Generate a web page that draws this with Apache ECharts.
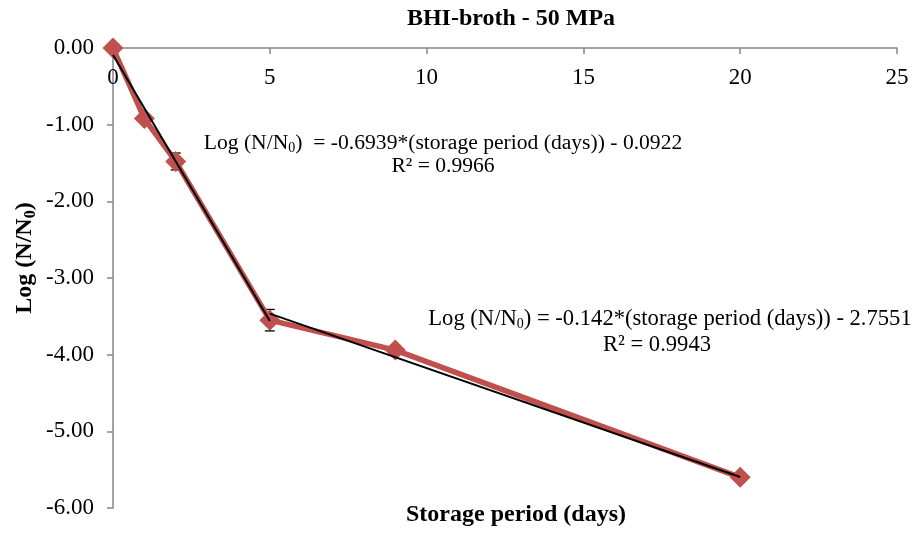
<!DOCTYPE html>
<html>
<head>
<meta charset="utf-8">
<script src="https://cdn.jsdelivr.net/npm/echarts@6/dist/echarts.min.js"></script>
<style>
  html, body { margin: 0; padding: 0; background: #fff; }
  #chart { width: 919px; height: 533px; }
</style>
</head>
<body>
<div id="chart"></div>
<script>
// Storage days and measured log reduction
const days = [0, 1, 2, 5, 9, 20];
const logReduction = [0.00, -0.92, -1.48, -3.55, -3.94, -5.60];
const errorSpan = [0.00, 0.04, 0.11, 0.14, 0.06, 0.03];

// Fitted trend segments: slope, intercept, x range
const fit1 = { slope: -0.6939, intercept: -0.0922, from: 0, to: 5, r2: '0.9966' };
const fit2 = { slope: -0.142, intercept: -2.7551, from: 5, to: 20, r2: '0.9943' };

const xTicks = [0, 5, 10, 15, 20, 25];
const yTicks = [0, -1, -2, -3, -4, -5, -6];

const FONT = '"Liberation Serif", "Times New Roman", serif';
const AXIS_COLOR = '#868686';
const RED = '#C0504D';

function fitLine(f) {
  return [[f.from, f.slope * f.from + f.intercept], [f.to, f.slope * f.to + f.intercept]];
}

function eqRich(size) {
  return {
    t: { fontFamily: FONT, fontSize: size, color: '#000' },
    s: { fontFamily: FONT, fontSize: 14, color: '#000', padding: [11, 0, 0, 0] }
  };
}

function equationText(f, gap) {
  return '{t|Log (N/N}{s|0}{t|)' + gap + '= ' + f.slope + '*(storage period (days)) - ' +
    Math.abs(f.intercept) + '}';
}

const chart = echarts.init(document.getElementById('chart'), null, { renderer: 'canvas' });

chart.setOption({
  backgroundColor: '#fff',
  animation: false,
  grid: { left: 113, top: 48, width: 784, height: 460 },
  xAxis: {
    type: 'value',
    position: 'top',
    min: xTicks[0],
    max: xTicks[xTicks.length - 1],
    interval: 5,
    axisLine: { show: true, onZero: false, lineStyle: { color: AXIS_COLOR, width: 1.5 } },
    axisTick: { show: true, inside: true, length: 6, lineStyle: { color: AXIS_COLOR, width: 1.5 } },
    axisLabel: { inside: true, margin: 18, fontFamily: FONT, fontSize: 23, color: '#000' },
    splitLine: { show: false }
  },
  yAxis: {
    type: 'value',
    min: yTicks[yTicks.length - 1],
    max: yTicks[0],
    interval: 1,
    axisLine: { show: true, onZero: false, lineStyle: { color: AXIS_COLOR, width: 1.5 } },
    axisTick: { show: true, length: 6, lineStyle: { color: AXIS_COLOR, width: 1.5 } },
    axisLabel: { margin: 19, fontFamily: FONT, fontSize: 23, color: '#000',
      formatter: v => v.toFixed(2) },
    splitLine: { show: false }
  },
  graphic: [
    { type: 'text', x: 511, y: 19, style: { text: 'BHI-broth - 50 MPa', fontFamily: FONT,
      fontSize: 24, fontWeight: 'bold', fill: '#000', align: 'center', verticalAlign: 'middle' } },
    { type: 'text', x: 516, y: 515, style: { text: 'Storage period (days)', fontFamily: FONT,
      fontSize: 24, fontWeight: 'bold', fill: '#000', align: 'center', verticalAlign: 'middle' } },
    { type: 'text', x: 25, y: 258, rotation: Math.PI / 2, style: {
      text: '{b|Log (N/N}{bs|0}{b|)}', align: 'center', verticalAlign: 'middle',
      rich: {
        b: { fontFamily: FONT, fontSize: 24, fontWeight: 'bold', fill: '#000' },
        bs: { fontFamily: FONT, fontSize: 16, fontWeight: 'bold', fill: '#000', padding: [12, 0, 0, 0] }
      } } },
    { type: 'text', x: 443, y: 143, style: { text: equationText(fit1, '  '),
      align: 'center', verticalAlign: 'middle', rich: eqRich(21.6) } },
    { type: 'text', x: 443, y: 166, style: { text: 'R² = ' + fit1.r2, fontFamily: FONT,
      fontSize: 21.6, fill: '#000', align: 'center', verticalAlign: 'middle' } },
    { type: 'text', x: 670, y: 319, style: { text: equationText(fit2, ' '),
      align: 'center', verticalAlign: 'middle', rich: eqRich(22.6) } },
    { type: 'text', x: 657, y: 345, style: { text: 'R² = ' + fit2.r2, fontFamily: FONT,
      fontSize: 22.6, fill: '#000', align: 'center', verticalAlign: 'middle' } }
  ],
  series: [
    {
      type: 'custom',
      data: days.map((d, i) => [d, logReduction[i], errorSpan[i]]),
      renderItem: function (params, api) {
        const x = api.value(0), y = api.value(1), e = api.value(2);
        if (!e) return null;
        const top = api.coord([x, y + e]);
        const bot = api.coord([x, y - e]);
        const cap = 5;
        const st = { stroke: '#000', lineWidth: 1.3 };
        return { type: 'group', children: [
          { type: 'line', shape: { x1: top[0], y1: top[1], x2: bot[0], y2: bot[1] }, style: st },
          { type: 'line', shape: { x1: top[0] - cap, y1: top[1], x2: top[0] + cap, y2: top[1] }, style: st },
          { type: 'line', shape: { x1: bot[0] - cap, y1: bot[1], x2: bot[0] + cap, y2: bot[1] }, style: st }
        ] };
      },
      z: 1
    },
    {
      type: 'line',
      data: days.map((d, i) => [d, logReduction[i]]),
      symbol: 'diamond',
      symbolSize: 21,
      lineStyle: { color: RED, width: 5.5 },
      itemStyle: { color: RED },
      z: 2
    },
    {
      type: 'line', data: fitLine(fit1), symbol: 'none',
      lineStyle: { color: '#000', width: 2 }, z: 4
    },
    {
      type: 'line', data: fitLine(fit2), symbol: 'none',
      lineStyle: { color: '#000', width: 2 }, z: 4
    }
  ]
});
</script>
</body>
</html>
